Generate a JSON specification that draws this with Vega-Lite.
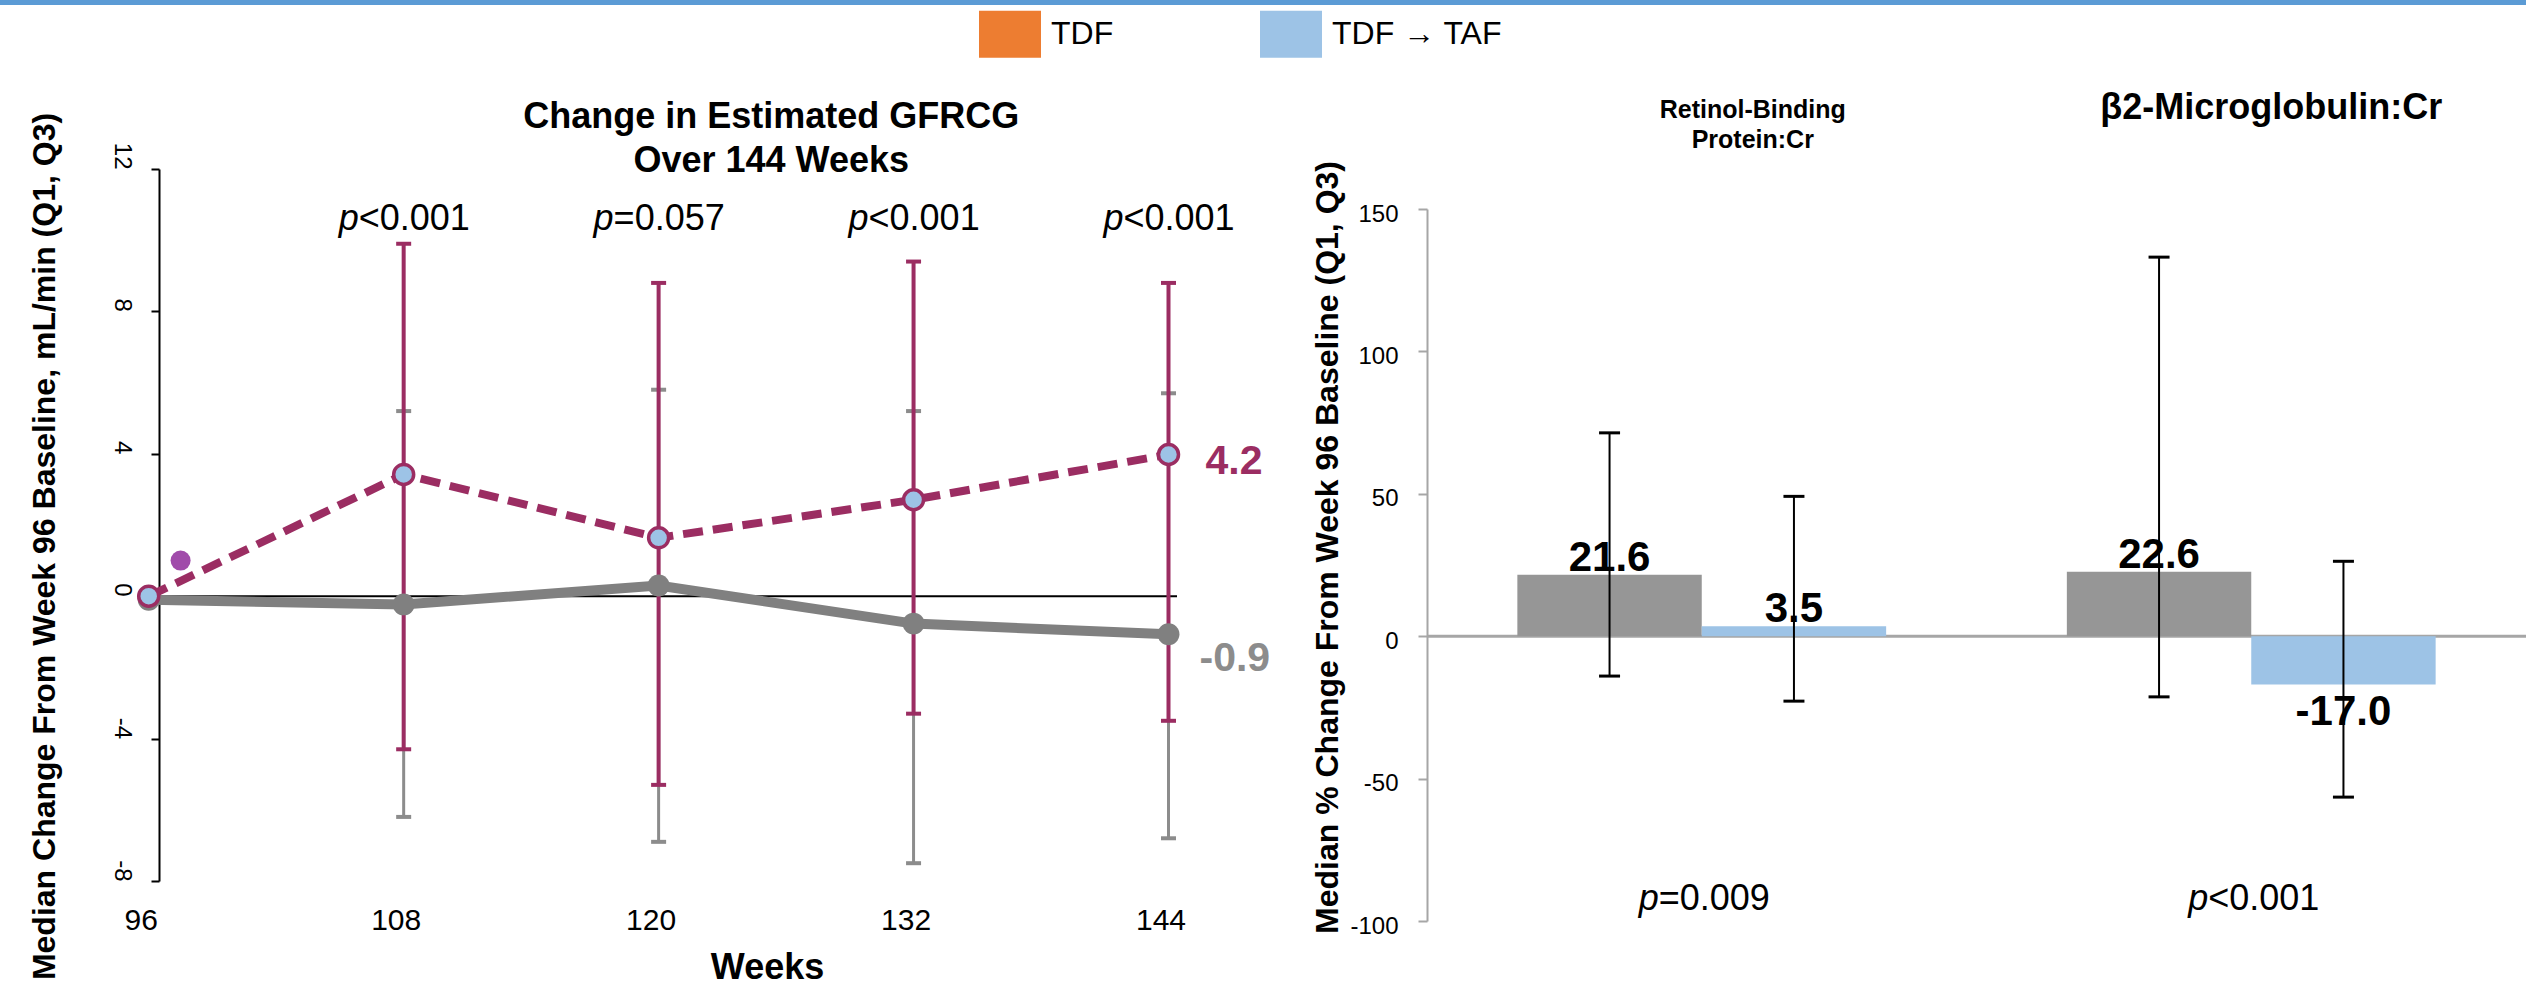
{
  "$schema": "https://vega.github.io/schema/vega-lite/v6.json",
  "padding": 0,
  "background": "white",
  "config": {
    "view": {"stroke": null},
    "font": "Liberation Sans",
    "text": {"font": "Liberation Sans", "color": "#000000"},
    "axis": {"labelFont": "Liberation Sans", "titleFont": "Liberation Sans", "labelColor": "#000000", "titleColor": "#000000", "grid": false},
    "legend": {"labelFont": "Liberation Sans"}
  },
  "datasets": {
    "gfr": [
      {"week": 96, "group": "TDF", "median": -0.1},
      {"week": 108, "group": "TDF", "median": -0.23, "q1": -6.2, "q3": 5.2},
      {"week": 120, "group": "TDF", "median": 0.3, "q1": -6.9, "q3": 5.8},
      {"week": 132, "group": "TDF", "median": -0.77, "q1": -7.5, "q3": 5.2},
      {"week": 144, "group": "TDF", "median": -1.07, "q1": -6.8, "q3": 5.7, "label": "-0.9"},
      {"week": 96, "group": "TDF → TAF", "median": 0.0},
      {"week": 108, "group": "TDF → TAF", "median": 3.42, "q1": -4.3, "q3": 9.9},
      {"week": 120, "group": "TDF → TAF", "median": 1.64, "q1": -5.3, "q3": 8.8},
      {"week": 132, "group": "TDF → TAF", "median": 2.71, "q1": -3.3, "q3": 9.4},
      {"week": 144, "group": "TDF → TAF", "median": 3.98, "q1": -3.5, "q3": 8.8, "label": "4.2"}
    ],
    "stray": [{"week": 97.5, "median": 1.0}],
    "pLeft": [
      {"week": 108, "rest": "<0.001"},
      {"week": 120, "rest": "=0.057"},
      {"week": 132, "rest": "<0.001"},
      {"week": 144, "rest": "<0.001"}
    ],
    "bars": [
      {"marker": "Retinol-Binding Protein:Cr", "group": "TDF", "median": 21.6, "label": "21.6", "q1": -14.0, "q3": 71.4},
      {"marker": "Retinol-Binding Protein:Cr", "group": "TDF → TAF", "median": 3.5, "label": "3.5", "q1": -22.8, "q3": 49.1},
      {"marker": "β2-Microglobulin:Cr", "group": "TDF", "median": 22.6, "label": "22.6", "q1": -21.3, "q3": 133.1},
      {"marker": "β2-Microglobulin:Cr", "group": "TDF → TAF", "median": -17.0, "label": "-17.0", "q1": -56.5, "q3": 26.3}
    ],
    "pRight": [
      {"marker": "Retinol-Binding Protein:Cr", "rest": "=0.009"},
      {"marker": "β2-Microglobulin:Cr", "rest": "<0.001"}
    ],
    "panelTitles": [
      {"marker": "Retinol-Binding Protein:Cr", "title": "Retinol-Binding|Protein:Cr"},
      {"marker": "β2-Microglobulin:Cr", "title": "β2-Microglobulin:Cr"}
    ]
  },
  "bounds": "flush",
  "spacing": 164,
  "vconcat": [
    {
      "width": 2526,
      "height": 5,
      "data": {"values": [{"band": "top"}]},
      "mark": {"type": "rect", "color": "#5B9BD5"},
      "encoding": {}
    },
    {
      "bounds": "flush",
      "spacing": 250,
      "hconcat": [
        {
          "width": 1177,
          "height": 712,
          "data": {"name": "gfr"},
          "layer": [
            {
              "data": {"values": [{"ref": "zero"}]},
              "mark": {"type": "rule", "color": "#000000", "strokeWidth": 2},
              "encoding": {
                "x": {"datum": 96, "type": "quantitative", "scale": {"domain": [89, 144.4], "nice": false, "zero": false}},
                "x2": {"datum": 144.4},
                "y": {"datum": 0, "type": "quantitative", "scale": {"domain": [-8, 12], "nice": false, "zero": false}}
              }
            },
            {
              "transform": [{"filter": "datum.group === 'TDF' && isValid(datum.q1)"}],
              "mark": {"type": "rule", "color": "#8C8C8C", "strokeWidth": 3},
              "encoding": {
                "x": {"field": "week", "type": "quantitative", "scale": {"domain": [89, 144.4], "nice": false, "zero": false},
                  "axis": {"title": "Weeks", "values": [96, 108, 120, 132, 144], "domain": false, "ticks": false, "tickSize": 0,
                    "labelFontSize": 30, "labelPadding": 24, "labelOffset": -8, "labelFlush": false, "labelOverlap": false, "labelBound": false,
                    "titleFontSize": 36, "titleFontWeight": "bold", "titleX": 767, "titleY": 97, "titleBaseline": "alphabetic", "titleAlign": "center"}},
                "y": {"field": "q1", "type": "quantitative", "scale": {"domain": [-8, 12], "nice": false, "zero": false},
                  "axis": {"title": "Median Change From Week 96 Baseline, mL/min (Q1, Q3)", "values": [-8, -4, 0, 4, 8, 12], "offset": -159,
                    "domain": true, "domainColor": "#000000", "domainWidth": 2, "ticks": true, "tickColor": "#000000", "tickWidth": 2, "tickSize": 8,
                    "labelAngle": 90, "labelAlign": "right", "labelBaseline": "middle", "labelFontSize": 24, "labelPadding": 30,
                    "labelFlush": false, "labelOverlap": false, "labelBound": false, "labelExpr": "'' + datum.value",
                    "titleFontSize": 32, "titleFontWeight": "bold", "titleX": -115, "titleY": 377, "titleAngle": -90, "titleAlign": "center", "titleBaseline": "middle"}},
                "y2": {"field": "q3"}
              }
            },
            {
              "transform": [{"filter": "datum.group === 'TDF' && isValid(datum.q1)"}],
              "mark": {"type": "tick", "orient": "horizontal", "color": "#8C8C8C", "size": 15, "thickness": 4, "opacity": 1},
              "encoding": {
                "x": {"field": "week", "type": "quantitative", "scale": {"domain": [89, 144.4], "nice": false, "zero": false}},
                "y": {"field": "q1", "type": "quantitative", "scale": {"domain": [-8, 12], "nice": false, "zero": false}}
              }
            },
            {
              "transform": [{"filter": "datum.group === 'TDF' && isValid(datum.q3)"}],
              "mark": {"type": "tick", "orient": "horizontal", "color": "#8C8C8C", "size": 15, "thickness": 4, "opacity": 1},
              "encoding": {
                "x": {"field": "week", "type": "quantitative", "scale": {"domain": [89, 144.4], "nice": false, "zero": false}},
                "y": {"field": "q3", "type": "quantitative", "scale": {"domain": [-8, 12], "nice": false, "zero": false}}
              }
            },
            {
              "transform": [{"filter": "datum.group === 'TDF → TAF' && isValid(datum.q1)"}],
              "mark": {"type": "rule", "color": "#9B2D62", "strokeWidth": 4},
              "encoding": {
                "x": {"field": "week", "type": "quantitative", "scale": {"domain": [89, 144.4], "nice": false, "zero": false}},
                "y": {"field": "q1", "type": "quantitative", "scale": {"domain": [-8, 12], "nice": false, "zero": false}},
                "y2": {"field": "q3"}
              }
            },
            {
              "transform": [{"filter": "datum.group === 'TDF → TAF' && isValid(datum.q1)"}],
              "mark": {"type": "tick", "orient": "horizontal", "color": "#9B2D62", "size": 15, "thickness": 4, "opacity": 1},
              "encoding": {
                "x": {"field": "week", "type": "quantitative", "scale": {"domain": [89, 144.4], "nice": false, "zero": false}},
                "y": {"field": "q1", "type": "quantitative", "scale": {"domain": [-8, 12], "nice": false, "zero": false}}
              }
            },
            {
              "transform": [{"filter": "datum.group === 'TDF → TAF' && isValid(datum.q3)"}],
              "mark": {"type": "tick", "orient": "horizontal", "color": "#9B2D62", "size": 15, "thickness": 4, "opacity": 1},
              "encoding": {
                "x": {"field": "week", "type": "quantitative", "scale": {"domain": [89, 144.4], "nice": false, "zero": false}},
                "y": {"field": "q3", "type": "quantitative", "scale": {"domain": [-8, 12], "nice": false, "zero": false}}
              }
            },
            {
              "transform": [{"filter": "datum.group === 'TDF'"}],
              "mark": {"type": "line", "color": "#808080", "strokeWidth": 10},
              "encoding": {
                "x": {"field": "week", "type": "quantitative", "scale": {"domain": [89, 144.4], "nice": false, "zero": false}},
                "y": {"field": "median", "type": "quantitative", "scale": {"domain": [-8, 12], "nice": false, "zero": false}}
              }
            },
            {
              "transform": [{"filter": "datum.group === 'TDF'"}],
              "mark": {"type": "point", "filled": true, "color": "#808080", "size": 480, "opacity": 1},
              "encoding": {
                "x": {"field": "week", "type": "quantitative", "scale": {"domain": [89, 144.4], "nice": false, "zero": false}},
                "y": {"field": "median", "type": "quantitative", "scale": {"domain": [-8, 12], "nice": false, "zero": false}}
              }
            },
            {
              "transform": [{"filter": "datum.group === 'TDF → TAF'"}],
              "mark": {"type": "line", "color": "#9B2D62", "strokeWidth": 8, "strokeDash": [20, 10]},
              "encoding": {
                "x": {"field": "week", "type": "quantitative", "scale": {"domain": [89, 144.4], "nice": false, "zero": false}},
                "y": {"field": "median", "type": "quantitative", "scale": {"domain": [-8, 12], "nice": false, "zero": false}}
              }
            },
            {
              "transform": [{"filter": "datum.group === 'TDF → TAF'"}],
              "mark": {"type": "point", "filled": true, "fill": "#9DC3E6", "stroke": "#9B2D62", "strokeWidth": 3.5, "size": 400, "opacity": 1},
              "encoding": {
                "x": {"field": "week", "type": "quantitative", "scale": {"domain": [89, 144.4], "nice": false, "zero": false}},
                "y": {"field": "median", "type": "quantitative", "scale": {"domain": [-8, 12], "nice": false, "zero": false}}
              }
            },
            {
              "data": {"name": "stray"},
              "mark": {"type": "point", "filled": true, "color": "#A04BAA", "size": 400, "opacity": 1},
              "encoding": {
                "x": {"field": "week", "type": "quantitative", "scale": {"domain": [89, 144.4], "nice": false, "zero": false}},
                "y": {"field": "median", "type": "quantitative", "scale": {"domain": [-8, 12], "nice": false, "zero": false}}
              }
            },
            {
              "mark": {"type": "point", "filled": true, "opacity": 0},
              "encoding": {
                "x": {"field": "week", "type": "quantitative", "scale": {"domain": [89, 144.4], "nice": false, "zero": false}},
                "y": {"field": "median", "type": "quantitative", "scale": {"domain": [-8, 12], "nice": false, "zero": false}},
                "color": {"field": "group", "type": "nominal",
                  "scale": {"domain": ["TDF", "TDF → TAF"], "range": ["#ED7D31", "#9DC3E6"]},
                  "legend": {"title": null, "orient": "none", "legendX": 979, "legendY": 3, "direction": "horizontal",
                    "symbolType": "M-1,-0.76H1V0.76H-1Z", "symbolSize": 3844, "symbolOpacity": 1, "symbolStrokeWidth": 0,
                    "labelFontSize": 32, "labelColor": "#000000", "labelOffset": 10, "columnPadding": 146, "padding": 0, "labelLimit": 400}}
              }
            },
            {
              "transform": [{"filter": "datum.group === 'TDF → TAF' && isValid(datum.label)"}],
              "mark": {"type": "text", "align": "left", "baseline": "middle", "dx": 37, "dy": 7, "fontSize": 41, "fontWeight": "bold", "color": "#9B2D62"},
              "encoding": {
                "x": {"field": "week", "type": "quantitative", "scale": {"domain": [89, 144.4], "nice": false, "zero": false}},
                "y": {"field": "median", "type": "quantitative", "scale": {"domain": [-8, 12], "nice": false, "zero": false}},
                "text": {"field": "label"}
              }
            },
            {
              "transform": [{"filter": "datum.group === 'TDF' && isValid(datum.label)"}],
              "mark": {"type": "text", "align": "left", "baseline": "middle", "dx": 31, "dy": 25, "fontSize": 41, "fontWeight": "bold", "color": "#8C8C8C"},
              "encoding": {
                "x": {"field": "week", "type": "quantitative", "scale": {"domain": [89, 144.4], "nice": false, "zero": false}},
                "y": {"field": "median", "type": "quantitative", "scale": {"domain": [-8, 12], "nice": false, "zero": false}},
                "text": {"field": "label"}
              }
            },
            {
              "data": {"name": "pLeft"},
              "mark": {"type": "text", "text": "p", "fontStyle": "italic", "fontSize": 36, "align": "right", "baseline": "alphabetic", "dx": -45},
              "encoding": {
                "x": {"field": "week", "type": "quantitative", "scale": {"domain": [89, 144.4], "nice": false, "zero": false}},
                "y": {"datum": 10.3, "type": "quantitative", "scale": {"domain": [-8, 12], "nice": false, "zero": false}}
              }
            },
            {
              "data": {"name": "pLeft"},
              "mark": {"type": "text", "fontSize": 36, "align": "left", "baseline": "alphabetic", "dx": -45},
              "encoding": {
                "x": {"field": "week", "type": "quantitative", "scale": {"domain": [89, 144.4], "nice": false, "zero": false}},
                "y": {"datum": 10.3, "type": "quantitative", "scale": {"domain": [-8, 12], "nice": false, "zero": false}},
                "text": {"field": "rest"}
              }
            },
            {
              "data": {"values": [{"ref": "title"}]},
              "mark": {"type": "text", "text": ["Change in Estimated GFRCG", "Over 144 Weeks"], "fontSize": 36, "fontWeight": "bold", "lineHeight": 44, "align": "center", "baseline": "middle"},
              "encoding": {
                "x": {"datum": 125.3, "type": "quantitative", "scale": {"domain": [89, 144.4], "nice": false, "zero": false}},
                "y": {"datum": 13.46, "type": "quantitative", "scale": {"domain": [-8, 12], "nice": false, "zero": false}}
              }
            }
          ]
        },
        {
          "bounds": "flush",
          "spacing": 0,
          "vconcat": [
            {
              "width": 1099,
              "height": 40,
              "data": {"name": "panelTitles"},
              "layer": [
                {
                  "transform": [{"filter": "datum.marker === 'Retinol-Binding Protein:Cr'"}],
                  "mark": {"type": "text", "fontSize": 25, "fontWeight": "bold", "lineBreak": "|", "lineHeight": 30, "align": "center", "baseline": "middle", "dx": 51, "dy": -79},
                  "encoding": {
                    "x": {"field": "marker", "type": "nominal", "scale": {"type": "band", "domain": ["Retinol-Binding Protein:Cr", "β2-Microglobulin:Cr"], "paddingInner": 0, "paddingOuter": 0}, "axis": null},
                    "text": {"field": "title"}
                  }
                },
                {
                  "transform": [{"filter": "datum.marker !== 'Retinol-Binding Protein:Cr'"}],
                  "mark": {"type": "text", "fontSize": 36, "fontWeight": "bold", "align": "center", "baseline": "middle", "dx": 20, "dy": -81},
                  "encoding": {
                    "x": {"field": "marker", "type": "nominal", "scale": {"type": "band", "domain": ["Retinol-Binding Protein:Cr", "β2-Microglobulin:Cr"], "paddingInner": 0, "paddingOuter": 0}, "axis": null},
                    "text": {"field": "title"}
                  }
                }
              ]
            },
            {
              "width": 1099,
              "height": 712,
              "data": {"name": "bars"},
              "layer": [
                {
                  "data": {"values": [{"ref": "zero"}]},
                  "mark": {"type": "rule", "color": "#A6A6A6", "strokeWidth": 3},
                  "encoding": {
                    "y": {"datum": 0, "type": "quantitative", "scale": {"domain": [-100, 150], "nice": false, "zero": false}}
                  }
                },
                {
                  "mark": {"type": "bar"},
                  "encoding": {
                    "x": {"field": "marker", "type": "nominal", "scale": {"type": "band", "domain": ["Retinol-Binding Protein:Cr", "β2-Microglobulin:Cr"], "paddingInner": 0, "paddingOuter": 0}, "axis": null},
                    "xOffset": {"field": "group", "type": "nominal", "scale": {"type": "band", "domain": ["TDF", "TDF → TAF"], "paddingInner": 0, "paddingOuter": 0.49}},
                    "y": {"field": "median", "type": "quantitative", "scale": {"domain": [-100, 150], "nice": false, "zero": false},
                      "axis": {"title": "Median % Change From Week 96 Baseline (Q1, Q3)", "values": [-100, -50, 0, 50, 100, 150],
                        "domainColor": "#A6A6A6", "domainWidth": 2, "tickColor": "#A6A6A6", "tickWidth": 2, "tickSize": 9,
                        "labelFontSize": 24, "labelPadding": 20, "labelOffset": 5, "labelFlush": false, "labelOverlap": false, "labelBound": false,
                        "labelExpr": "'' + datum.value",
                        "titleFontSize": 32, "titleFontWeight": "bold", "titleX": -100, "titleY": 338, "titleAngle": -90, "titleAlign": "center", "titleBaseline": "middle"}},
                    "fill": {"field": "group", "type": "nominal", "scale": {"domain": ["TDF", "TDF → TAF"], "range": ["#969696", "#9DC3E6"]}, "legend": null}
                  }
                },
                {
                  "mark": {"type": "rule", "color": "#000000", "strokeWidth": 2},
                  "encoding": {
                    "x": {"field": "marker", "type": "nominal", "scale": {"type": "band", "domain": ["Retinol-Binding Protein:Cr", "β2-Microglobulin:Cr"], "paddingInner": 0, "paddingOuter": 0}, "axis": null},
                    "xOffset": {"field": "group", "type": "nominal", "scale": {"type": "band", "domain": ["TDF", "TDF → TAF"], "paddingInner": 0, "paddingOuter": 0.49}},
                    "y": {"field": "q1", "type": "quantitative", "scale": {"domain": [-100, 150], "nice": false, "zero": false}},
                    "y2": {"field": "q3"}
                  }
                },
                {
                  "mark": {"type": "tick", "orient": "horizontal", "color": "#000000", "size": 21, "thickness": 3, "opacity": 1},
                  "encoding": {
                    "x": {"field": "marker", "type": "nominal", "scale": {"type": "band", "domain": ["Retinol-Binding Protein:Cr", "β2-Microglobulin:Cr"], "paddingInner": 0, "paddingOuter": 0}, "axis": null},
                    "xOffset": {"field": "group", "type": "nominal", "scale": {"type": "band", "domain": ["TDF", "TDF → TAF"], "paddingInner": 0, "paddingOuter": 0.49}},
                    "y": {"field": "q1", "type": "quantitative", "scale": {"domain": [-100, 150], "nice": false, "zero": false}}
                  }
                },
                {
                  "mark": {"type": "tick", "orient": "horizontal", "color": "#000000", "size": 21, "thickness": 3, "opacity": 1},
                  "encoding": {
                    "x": {"field": "marker", "type": "nominal", "scale": {"type": "band", "domain": ["Retinol-Binding Protein:Cr", "β2-Microglobulin:Cr"], "paddingInner": 0, "paddingOuter": 0}, "axis": null},
                    "xOffset": {"field": "group", "type": "nominal", "scale": {"type": "band", "domain": ["TDF", "TDF → TAF"], "paddingInner": 0, "paddingOuter": 0.49}},
                    "y": {"field": "q3", "type": "quantitative", "scale": {"domain": [-100, 150], "nice": false, "zero": false}}
                  }
                },
                {
                  "transform": [{"filter": "datum.median >= 0"}],
                  "mark": {"type": "text", "fontSize": 42, "fontWeight": "bold", "align": "center", "baseline": "alphabetic", "dy": -4},
                  "encoding": {
                    "x": {"field": "marker", "type": "nominal", "scale": {"type": "band", "domain": ["Retinol-Binding Protein:Cr", "β2-Microglobulin:Cr"], "paddingInner": 0, "paddingOuter": 0}, "axis": null},
                    "xOffset": {"field": "group", "type": "nominal", "scale": {"type": "band", "domain": ["TDF", "TDF → TAF"], "paddingInner": 0, "paddingOuter": 0.49}},
                    "y": {"field": "median", "type": "quantitative", "scale": {"domain": [-100, 150], "nice": false, "zero": false}},
                    "text": {"field": "label"}
                  }
                },
                {
                  "transform": [{"filter": "datum.median < 0"}],
                  "mark": {"type": "text", "fontSize": 42, "fontWeight": "bold", "align": "center", "baseline": "top", "dy": 7},
                  "encoding": {
                    "x": {"field": "marker", "type": "nominal", "scale": {"type": "band", "domain": ["Retinol-Binding Protein:Cr", "β2-Microglobulin:Cr"], "paddingInner": 0, "paddingOuter": 0}, "axis": null},
                    "xOffset": {"field": "group", "type": "nominal", "scale": {"type": "band", "domain": ["TDF", "TDF → TAF"], "paddingInner": 0, "paddingOuter": 0.49}},
                    "y": {"field": "median", "type": "quantitative", "scale": {"domain": [-100, 150], "nice": false, "zero": false}},
                    "text": {"field": "label"}
                  }
                },
                {
                  "data": {"name": "pRight"},
                  "mark": {"type": "text", "text": "p", "fontStyle": "italic", "fontSize": 36, "align": "right", "baseline": "alphabetic", "dx": -43},
                  "encoding": {
                    "x": {"field": "marker", "type": "nominal", "scale": {"type": "band", "domain": ["Retinol-Binding Protein:Cr", "β2-Microglobulin:Cr"], "paddingInner": 0, "paddingOuter": 0}, "axis": null},
                    "y": {"datum": -96, "type": "quantitative", "scale": {"domain": [-100, 150], "nice": false, "zero": false}}
                  }
                },
                {
                  "data": {"name": "pRight"},
                  "mark": {"type": "text", "fontSize": 36, "align": "left", "baseline": "alphabetic", "dx": -43},
                  "encoding": {
                    "x": {"field": "marker", "type": "nominal", "scale": {"type": "band", "domain": ["Retinol-Binding Protein:Cr", "β2-Microglobulin:Cr"], "paddingInner": 0, "paddingOuter": 0}, "axis": null},
                    "y": {"datum": -96, "type": "quantitative", "scale": {"domain": [-100, 150], "nice": false, "zero": false}},
                    "text": {"field": "rest"}
                  }
                }
              ]
            }
          ]
        }
      ]
    }
  ]
}
